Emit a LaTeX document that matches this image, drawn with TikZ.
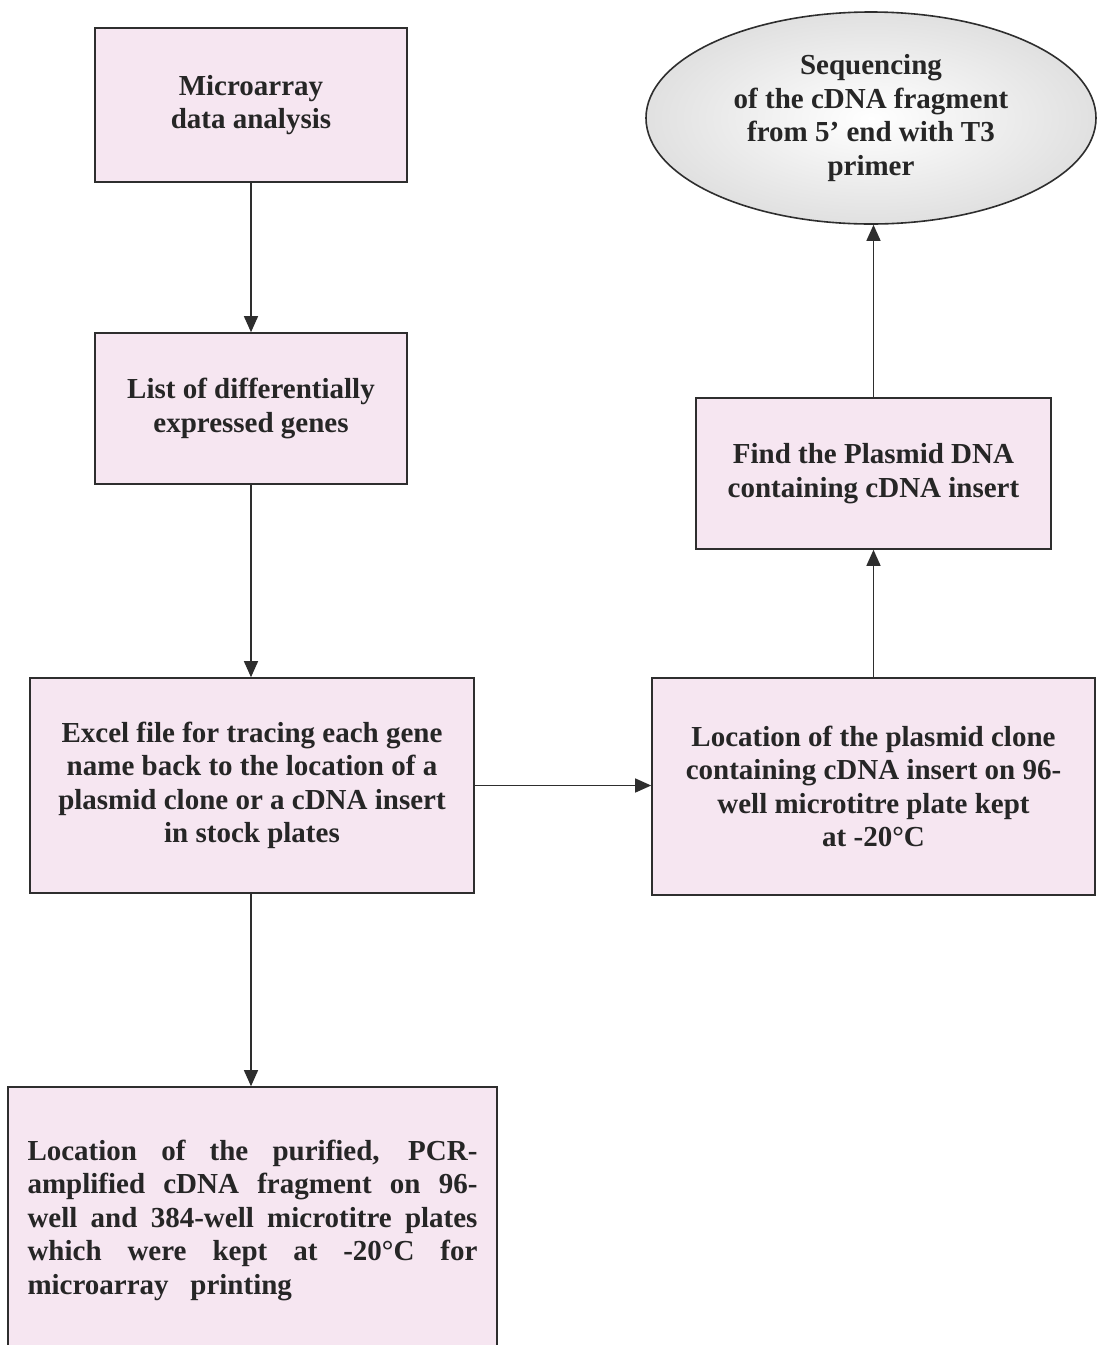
\documentclass[tikz,border=0pt]{standalone}
\usepackage{fontspec}
\setmainfont{Liberation Serif}
\usetikzlibrary{arrows.meta,shapes.geometric}
\definecolor{boxfill}{HTML}{F6E6F1}
\definecolor{edge}{HTML}{2E2E2E}
\tikzset{
  stepbox/.style={draw=edge, line width=1.6pt, fill=boxfill, rectangle, inner sep=0pt,
    align=center, font=\fontsize{29}{33.5}\selectfont\bfseries, text=black!85},
  conn/.style={draw=edge, line width=1.3pt, -{Triangle[length=16pt,width=14pt]}}
}
\begin{document}
\begin{tikzpicture}[x=1pt,y=-1pt]
\useasboundingbox (0,0) rectangle (1096,1345);
\fill[white] (0,0) rectangle (1096,1345);
\node[stepbox, minimum width=312pt, minimum height=154pt] (a) at (251,105) {Microarray\\data analysis};
\node[stepbox, minimum width=312pt, minimum height=151pt] (b) at (251,408.5) {List of differentially\\expressed genes};
\node[stepbox, minimum width=444pt, minimum height=215pt] (c) at (252,785.5) {Excel file for tracing each gene\\name back to the location of a\\plasmid clone or a cDNA insert\\in stock plates};
\node[stepbox, minimum width=489pt, minimum height=266pt, align=left] (d) at (252.5,1220) {%
\makebox[450pt][s]{Location of the purified, PCR-}\\
\makebox[450pt][s]{amplified cDNA fragment on 96-}\\
\makebox[450pt][s]{well and 384-well microtitre plates}\\
\makebox[450pt][s]{which were kept at -20°C for}\\
\makebox[450pt][l]{microarray\ \ \ printing}};
\node[stepbox, minimum width=443pt, minimum height=217pt] (e) at (873.5,786.5) {Location of the plasmid clone\\containing cDNA insert on 96-\\well microtitre plate kept\\at -20°C};
\node[stepbox, minimum width=355pt, minimum height=151pt] (f) at (873.5,473.5) {Find the Plasmid DNA\\containing cDNA insert};
\node[stepbox, ellipse, minimum width=450pt, minimum height=212pt, fill=none, shading=radial, inner color=white, outer color=gray!24] (g) at (871,118) {Sequencing\\of the cDNA fragment\\from 5’ end with T3\\primer};
\draw[conn] (a.south) -- (b.north);
\draw[conn] (b.south) -- (b.south |- c.north);
\draw[conn] (b.south |- c.south) -- (b.south |- d.north);
\draw[conn] (c.east) -- (c.east -| e.west);
\draw[conn] (e.north -| f.south) -- (f.south);
\draw[conn] (f.north) -- (f.north |- g.south);
\end{tikzpicture}
\end{document}
